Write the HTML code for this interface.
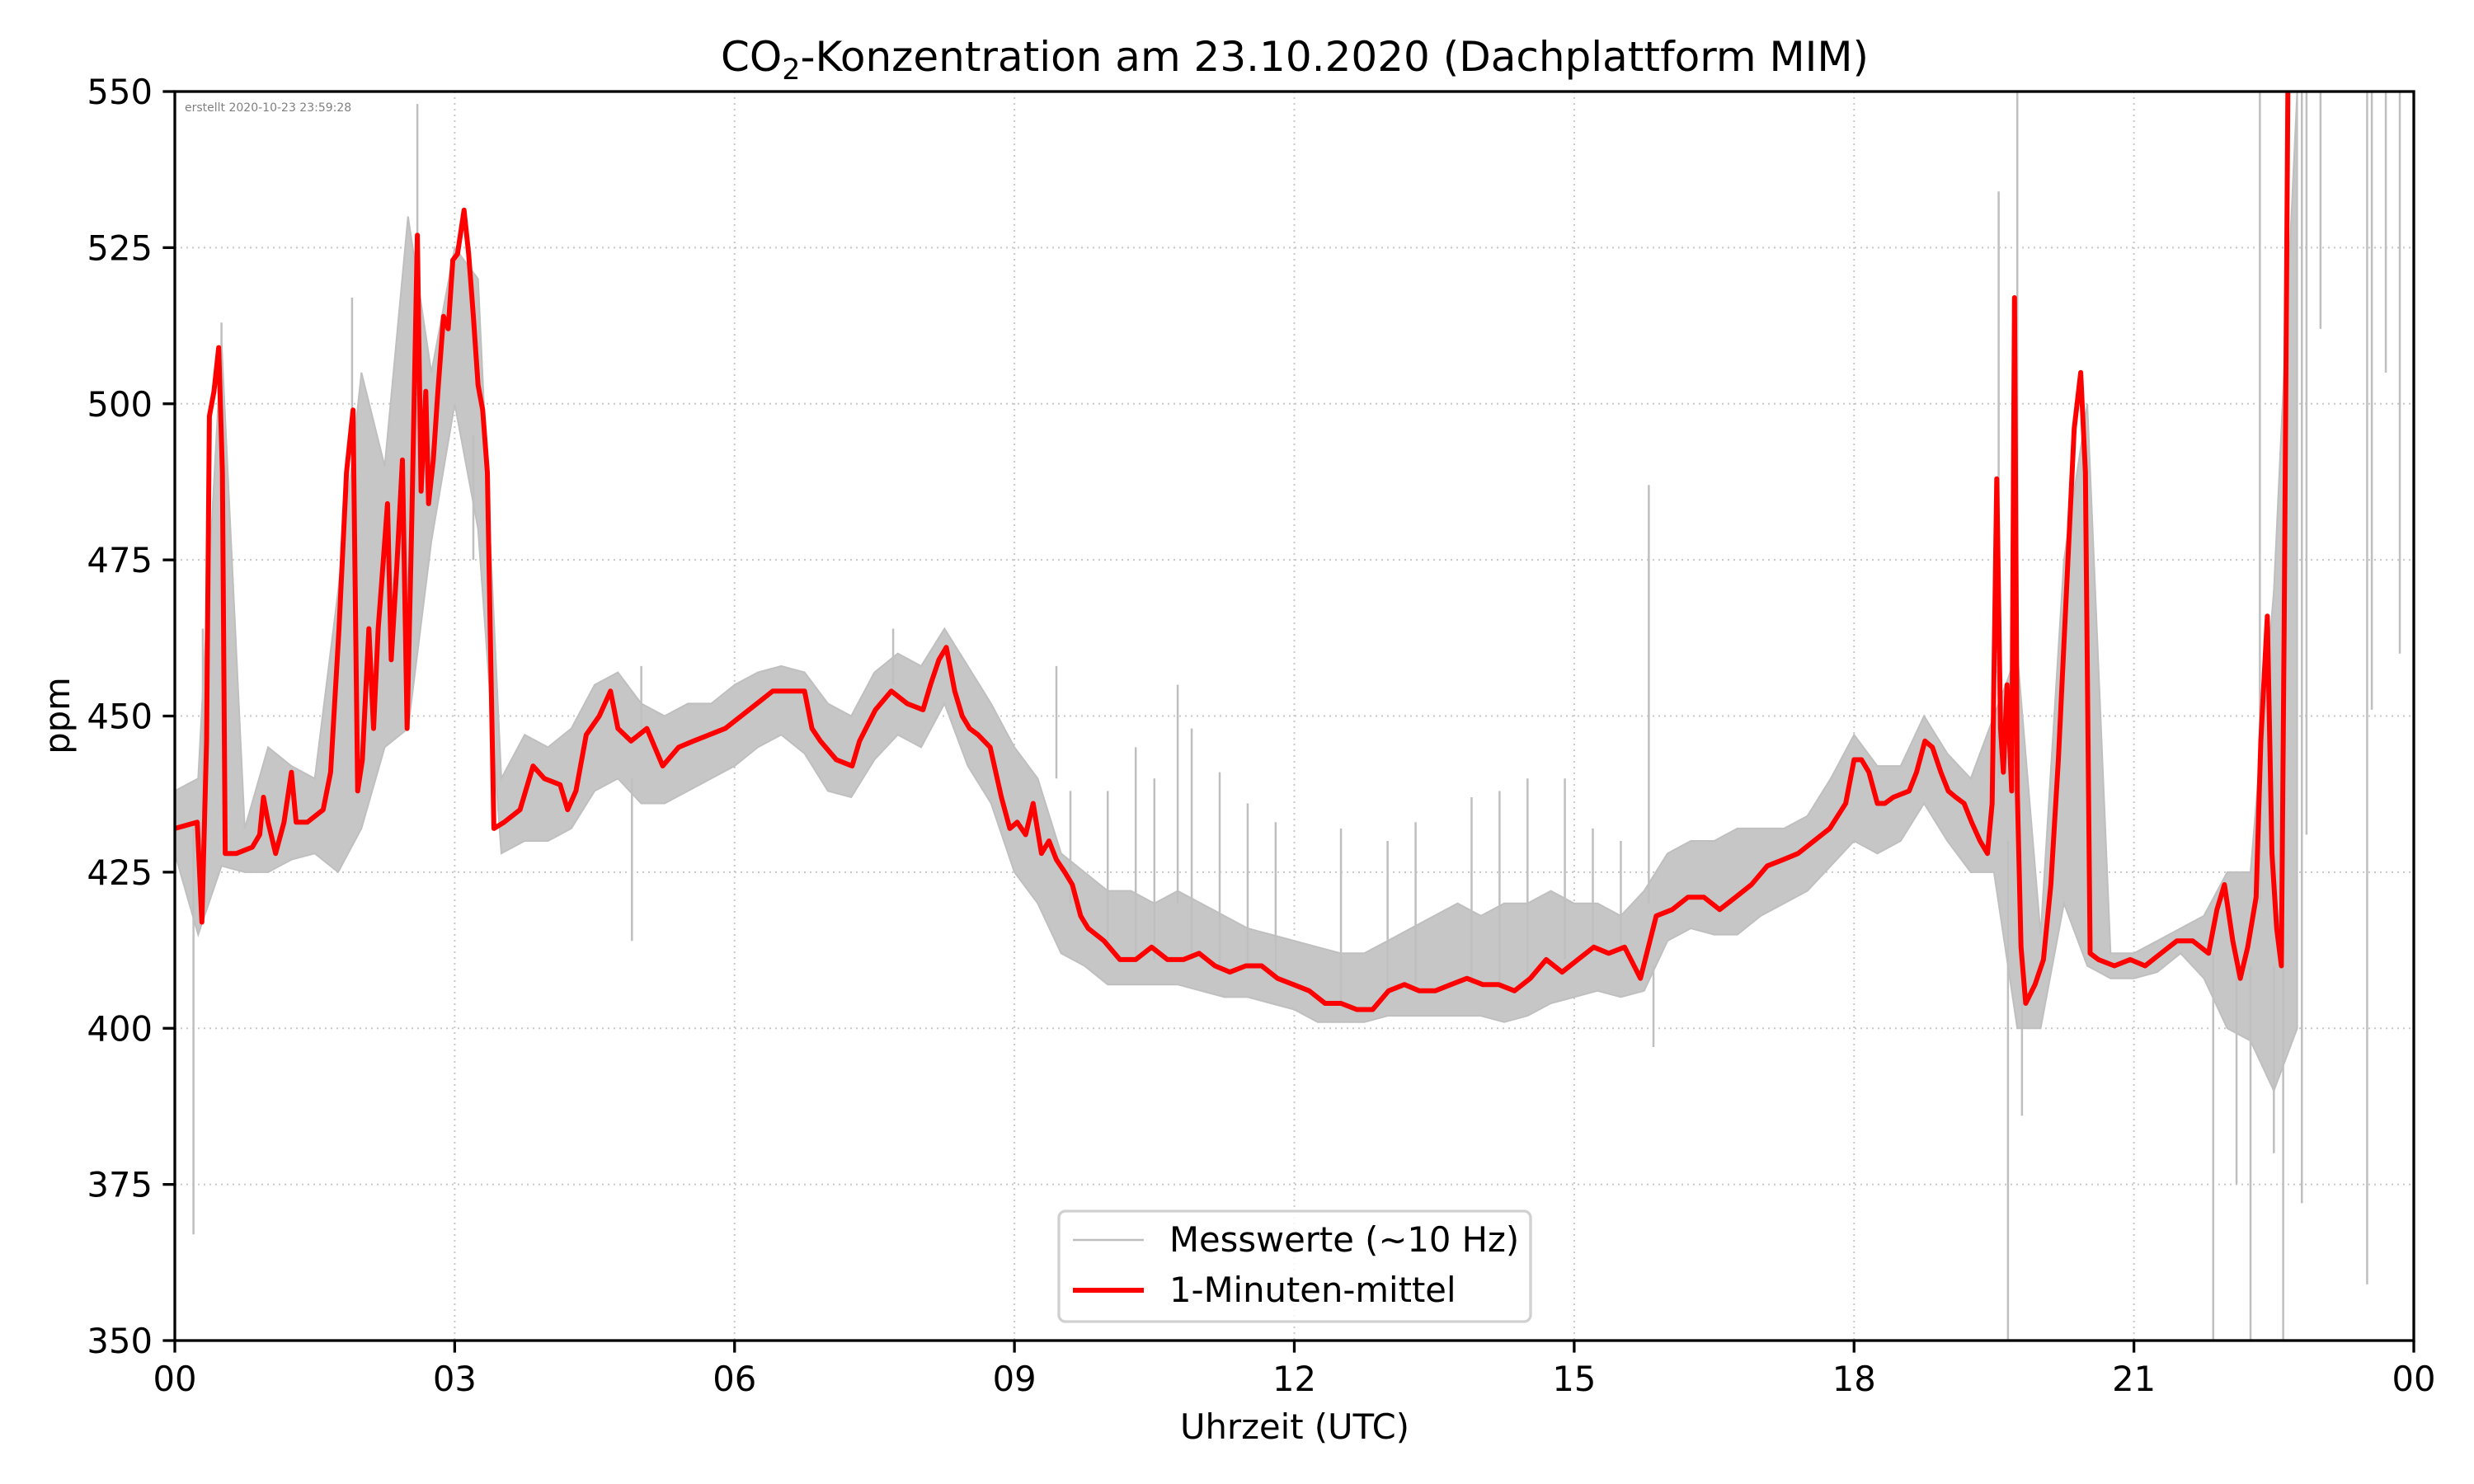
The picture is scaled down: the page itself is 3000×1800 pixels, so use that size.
<!DOCTYPE html>
<html><head><meta charset="utf-8"><style>
html,body{margin:0;padding:0;background:#fff}
svg{display:block}
text{font-family:"DejaVu Sans","Liberation Sans",sans-serif}
</style></head><body>
<svg id="chart" width="3000" height="1800" viewBox="0 0 3000 1800" xmlns="http://www.w3.org/2000/svg">
<rect width="3000" height="1800" fill="#fff"/>
<g id="grid"></g>
<g id="raw"></g>
<g id="mean"></g>
<rect x="212" y="111" width="2715" height="1515" fill="none" stroke="#000" stroke-width="3.3"/>
<g id="ticks"></g>
<text x="1570" y="86" font-size="50" text-anchor="middle">CO<tspan font-size="35" dy="10">2</tspan><tspan dy="-10">-Konzentration am 23.10.2020 (Dachplattform MIM)</tspan></text>
<text x="224" y="135" font-size="14" fill="#808080">erstellt 2020-10-23 23:59:28</text>
<text transform="translate(84,868) rotate(-90)" font-size="41.7" text-anchor="middle">ppm</text>
<text x="1570" y="1745" font-size="41.7" text-anchor="middle">Uhrzeit (UTC)</text>
<g>
<rect x="1284" y="1469" width="572" height="134" rx="8" fill="#fff" fill-opacity="0.8" stroke="#d0d0d0" stroke-width="3.3"/>
<line x1="1301" y1="1504" x2="1387" y2="1504" stroke="#bfbfbf" stroke-width="2.5"/>
<text x="1418" y="1518" font-size="41.7">Messwerte (~10 Hz)</text>
<line x1="1301" y1="1565" x2="1387" y2="1565" stroke="#ff0000" stroke-width="6"/>
<text x="1418" y="1579" font-size="41.7">1-Minuten-mittel</text>
</g>
</svg>
<script>
const xTickHours=[0,3,6,9,12,15,18,21,24];
const xTickLabels=["00","03","06","09","12","15","18","21","00"];
const yTicks=[350,375,400,425,450,475,500,525,550];
const meanHours=[0,0.24,0.29,0.34,0.37,0.42,0.47,0.51,0.54,0.66,0.83,0.91,0.95,1.00,1.08,1.17,1.25,1.30,1.42,1.59,1.67,1.76,1.84,1.91,1.96,2.01,2.08,2.13,2.18,2.23,2.28,2.32,2.38,2.44,2.49,2.54,2.60,2.64,2.69,2.72,2.77,2.82,2.88,2.93,2.98,3.03,3.10,3.15,3.20,3.25,3.30,3.35,3.38,3.42,3.53,3.70,3.84,3.96,4.13,4.21,4.30,4.41,4.55,4.67,4.75,4.89,5.06,5.23,5.40,5.56,5.73,5.90,6.07,6.24,6.41,6.58,6.75,6.83,6.92,7.09,7.26,7.34,7.51,7.68,7.85,8.02,8.10,8.19,8.27,8.36,8.44,8.52,8.61,8.74,8.86,8.95,9.03,9.12,9.20,9.29,9.37,9.45,9.54,9.62,9.71,9.79,9.96,10.13,10.30,10.47,10.64,10.81,10.98,11.15,11.31,11.48,11.65,11.82,11.99,12.16,12.33,12.50,12.67,12.84,13.01,13.18,13.34,13.51,13.68,13.85,14.02,14.19,14.36,14.53,14.70,14.87,15.04,15.21,15.37,15.54,15.71,15.88,16.05,16.22,16.39,16.56,16.73,16.90,17.07,17.24,17.40,17.57,17.74,17.91,18.00,18.08,18.16,18.25,18.33,18.42,18.59,18.67,18.76,18.84,18.93,19.01,19.09,19.18,19.26,19.35,19.43,19.48,19.53,19.57,19.60,19.64,19.69,19.72,19.75,19.79,19.84,19.94,20.03,20.11,20.19,20.28,20.36,20.43,20.48,20.53,20.62,20.79,20.96,21.12,21.29,21.46,21.63,21.80,21.89,21.97,22.06,22.14,22.22,22.31,22.36,22.43,22.48,22.53,22.58,22.61,22.65];
const meanPpm=[432,433,417,446,498,502,509,489,428,428,429,431,437,433,428,433,441,433,433,435,441,464,489,499,438,443,464,448,464,474,484,459,474,491,448,481,527,486,502,484,491,502,514,512,523,524,531,524,514,503,499,489,464,432,433,435,442,440,439,435,438,447,450,454,448,446,448,442,445,446,447,448,450,452,454,454,454,448,446,443,442,446,451,454,452,451,455,459,461,454,450,448,447,445,437,432,433,431,436,428,430,427,425,423,418,416,414,411,411,413,411,411,412,410,409,410,410,408,407,406,404,404,403,403,406,407,406,406,407,408,407,407,406,408,411,409,411,413,412,413,408,418,419,421,421,419,421,423,426,427,428,430,432,436,443,443,441,436,436,437,438,441,446,445,441,438,437,436,433,430,428,436,488,448,441,455,438,517,438,413,404,407,411,423,443,471,496,505,489,412,411,410,411,410,412,414,414,412,419,423,414,408,413,421,446,466,428,416,410,464,550];
const rawHours=[0,0.25,0.5,0.75,1,1.25,1.5,1.75,2,2.25,2.5,2.75,3,3.25,3.5,3.75,4,4.25,4.5,4.75,5,5.25,5.5,5.75,6,6.25,6.5,6.75,7,7.25,7.5,7.75,8,8.25,8.5,8.75,9,9.25,9.5,9.75,10,10.25,10.5,10.75,11,11.25,11.5,11.75,12,12.25,12.5,12.75,13,13.25,13.5,13.75,14,14.25,14.5,14.75,15,15.25,15.5,15.75,16,16.25,16.5,16.75,17,17.25,17.5,17.75,18,18.25,18.5,18.75,19,19.25,19.5,19.75,20,20.25,20.5,20.75,21,21.25,21.5,21.75,22,22.25,22.5,22.75];
const rawLow=[428,415,426,425,425,427,428,425,432,445,448,478,500,480,428,430,430,432,438,440,436,436,438,440,442,445,447,444,438,437,443,447,445,452,442,436,425,420,412,410,407,407,407,407,406,405,405,404,403,401,401,401,402,402,402,402,402,401,402,404,405,406,405,406,414,416,415,415,418,420,422,426,430,428,430,436,430,425,425,400,400,420,410,408,408,409,412,408,400,398,390,400];
const rawHigh=[438,440,510,432,445,442,440,470,505,490,530,505,525,520,440,447,445,448,455,457,452,450,452,452,455,457,458,457,452,450,457,460,458,464,458,452,445,440,428,425,422,422,420,422,420,418,416,415,414,413,412,412,414,416,418,420,418,420,420,422,420,420,418,422,428,430,430,432,432,432,434,440,447,442,442,450,444,440,450,460,415,475,500,412,412,414,416,418,425,425,470,550];
const spikeHours=[0.2,0.3,0.5,1.9,2.6,3.2,4.9,5.0,7.7,9.45,9.6,10.0,10.3,10.5,10.75,10.9,11.2,11.5,11.8,12.5,13.0,13.3,13.9,14.2,14.5,14.9,15.2,15.5,15.8,15.85,19.55,19.65,19.75,19.8,21.85,22.1,22.25,22.35,22.5,22.6,22.8,22.85,23.0,23.5,23.55,23.7,23.85,24.0];
const spikeFrom=[432,434,500,495,520,495,440,448,455,440,420,414,411,411,420,411,410,410,408,404,406,407,407,407,408,411,413,412,420,410,440,430,450,410,412,410,410,420,410,415,550,550,550,550,550,550,550,550];
const spikeTo=[367,464,513,517,548,475,414,458,464,458,438,438,445,440,455,448,441,436,433,432,430,433,437,438,440,440,432,430,487,397,534,350,550,386,350,375,350,550,380,350,372,431,512,359,451,505,460,396];

const X0=212,X1=2927,Y0=111,Y1=1626;
const xS=h=>X0+(h/24)*(X1-X0);
const yS=v=>Y1-(v-350)/200*(Y1-Y0);
const clampY=v=>yS(Math.max(350,Math.min(550,v)));
const NS='http://www.w3.org/2000/svg';
function mk(tag,attrs,parent){const e=document.createElementNS(NS,tag);for(const k in attrs)e.setAttribute(k,attrs[k]);parent.appendChild(e);return e;}
const gridG=document.getElementById('grid'),ticksG=document.getElementById('ticks'),rawG=document.getElementById('raw'),meanG=document.getElementById('mean');

xTickHours.forEach((h,i)=>{
  const g=mk('line',{x1:xS(h),x2:xS(h),y1:Y0,y2:Y1,stroke:'#c8c8c8','stroke-width':2,'stroke-dasharray':'2,5'},gridG);
  
  
  const t=mk('line',{x1:xS(h),x2:xS(h),y1:Y1,y2:Y1+14.6,stroke:'#000','stroke-width':3.3},ticksG);
  
  
  const l=mk('text',{x:xS(h),y:Y1+61,'font-size':41.7,'text-anchor':'middle'},ticksG);
  l.textContent=xTickLabels[i];
  
  
});
yTicks.forEach(v=>{
  const g=mk('line',{x1:X0,x2:X1,y1:yS(v),y2:yS(v),stroke:'#c8c8c8','stroke-width':2,'stroke-dasharray':'2,5'},gridG);
  
  
  const t=mk('line',{x1:X0-14.6,x2:X0,y1:yS(v),y2:yS(v),stroke:'#000','stroke-width':3.3},ticksG);
  
  
  const l=mk('text',{x:X0-27,y:yS(v)+15,'font-size':41.7,'text-anchor':'end'},ticksG);
  l.textContent=String(v);
  
  
});

const nRaw=Math.min(rawHours.length,rawLow.length,rawHigh.length);
let upperPath='',lowerPath='';
for(let i=0;i<nRaw;i++){upperPath+=(i?'L':'M')+xS(rawHours[i]).toFixed(1)+','+clampY(rawHigh[i]).toFixed(1);}
for(let i=nRaw-1;i>=0;i--){lowerPath+='L'+xS(rawHours[i]).toFixed(1)+','+clampY(rawLow[i]).toFixed(1);}
const band=mk('path',{d:upperPath+lowerPath+'Z',fill:'#c6c6c6',stroke:'#bfbfbf','stroke-width':2},rawG);


const nSp=Math.min(spikeHours.length,spikeFrom.length,spikeTo.length);
for(let i=0;i<nSp;i++){
  const s=mk('line',{x1:xS(spikeHours[i]),x2:xS(spikeHours[i]),y1:clampY(spikeFrom[i]),y2:clampY(spikeTo[i]),stroke:'#bfbfbf','stroke-width':2.5},rawG);
  
  
}

const nMean=Math.min(meanHours.length,meanPpm.length);
let meanPath='';
for(let i=0;i<nMean;i++){meanPath+=(i?'L':'M')+xS(meanHours[i]).toFixed(1)+','+clampY(meanPpm[i]).toFixed(1);}
const p=mk('path',{d:meanPath,fill:'none',stroke:'#ff0000','stroke-width':6,'stroke-linejoin':'round'},meanG);


</script>
</body></html>
